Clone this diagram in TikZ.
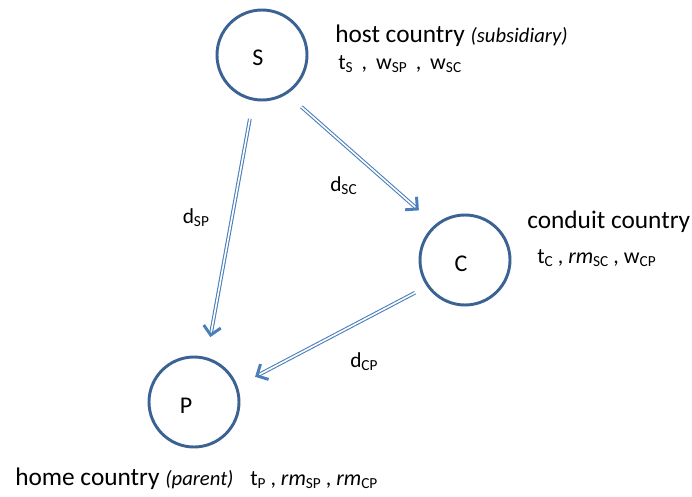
\documentclass[tikz,border=0pt]{standalone}
\usepackage{fontspec}
\setmainfont{Carlito}
\usetikzlibrary{arrows.meta}
\definecolor{ringblue}{HTML}{3A6292}
\definecolor{arrowblue}{HTML}{4A7EBB}
% lowered, smaller subscript
\newcommand{\lowsub}[1]{\raisebox{-0.3ex}{\fontsize{11.5}{12}\selectfont #1}}
\tikzset{
  country/.style={circle, draw=ringblue, line width=2.2pt, minimum size=67.5pt,
    inner sep=0pt, outer sep=0pt},
  flow/.style={arrowblue, double=white, line width=0.8pt, double distance=1.2pt,
    -{Straight Barb[length=6.5pt, width=13pt, line width=2.2pt]}},
  info/.style={anchor=base west, inner sep=0pt, font=\fontsize{16.5}{18}\selectfont},
  title/.style={anchor=base west, inner sep=0pt, font=\fontsize{19}{22}\selectfont},
  letter/.style={font=\fontsize{18}{20}\selectfont}
}
\begin{document}
\begin{tikzpicture}[x=0.75pt, y=-0.75pt]
\useasboundingbox (0,0) rectangle (692,496);

% the three countries
\node[country, label={[letter, shift={(-3pt,-2pt)}]center:S}] (S) at (262,55) {};
\node[country, label={[letter, shift={(-3pt,-3pt)}]center:C}] (C) at (465,260) {};
\node[country, label={[letter, shift={(-6pt,-3pt)}]center:P}] (P) at (194,402) {};

% flows between them
\draw[flow, shorten <=15pt, shorten >=16.5pt] (S.259.2) -- (P.74.5);
\draw[flow, shorten <=15.5pt, shorten >=17.2pt] (S.302.6) -- (C.130.9);
\draw[flow, shorten <=11.1pt, shorten >=15.9pt] (C.215) -- (P.20);

% flow labels
\node[info, font=\fontsize{16}{18}\selectfont] (dsp) at (182.5,223) {d\lowsub{SP}};
\node[info, font=\fontsize{16}{18}\selectfont] (dsc) at (330,191) {d\lowsub{SC}};
\node[info, font=\fontsize{16}{18}\selectfont] (dcp) at (350,367) {d\lowsub{CP}};

% country descriptions
\node[title] (host) at (335,42)
  {host country {\itshape\fontsize{15.5}{17}\selectfont (subsidiary)}};
\node[info] (hostv) at (338,69.5)
  {t\lowsub{S}\hspace{3pt} ,\hspace{3pt} w\lowsub{SP}\hspace{3pt} ,\hspace{3pt} w\lowsub{SC}};

\node[title] (cond) at (527,228) {conduit country};
\node[info] (condv) at (537,263) {t\lowsub{C} , \textit{rm}\lowsub{SC} , w\lowsub{CP}};

\node[title] (home) at (15,485)
  {home country {\itshape\fontsize{15.5}{17}\selectfont (parent)}};
\node[info] (homev) at (250,485) {t\lowsub{P} , \textit{rm}\lowsub{SP} , \textit{rm}\lowsub{CP}};
\end{tikzpicture}
\end{document}
